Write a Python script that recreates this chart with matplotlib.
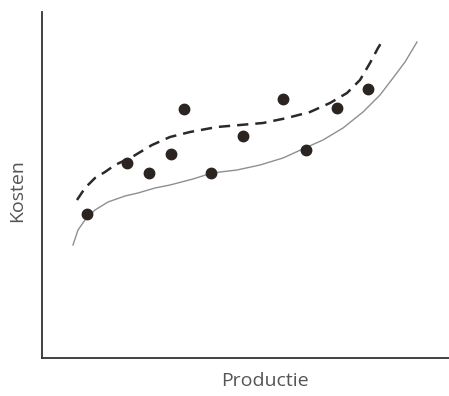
import matplotlib
matplotlib.use("Agg")
import matplotlib.pyplot as plt

obs_x = [45, 85, 107, 129, 142, 169, 201, 241, 264, 295, 326]
obs_y = [144, 195, 185, 204, 249, 185, 222, 259, 208, 250, 269]

# upper (dashed) cost curve
dash_x = [35, 43, 53, 63, 73, 90, 110, 128, 148, 175, 198, 221, 245, 268, 288,
          305, 318, 328, 336, 341]
dash_y = [158, 170, 180, 186, 193, 201, 213, 221, 226, 231, 233, 235, 240, 246, 255,
          265, 278, 295, 310, 318]

# lower (solid) cost curve
sol_x = [31, 36, 43, 53, 66, 83, 96, 113, 128, 151, 170, 195, 218, 241, 263,
         281, 301, 321, 338, 351, 363, 375]
sol_y = [113, 128, 138, 148, 156, 162, 165, 170, 173, 179, 185, 188, 193, 200, 210,
         218, 230, 246, 263, 280, 296, 316]

fig = plt.figure(figsize=(4.49, 3.96), dpi=100)
ax = fig.add_axes([42 / 449, 38 / 396, 407 / 449, 346 / 396])

ax.plot(sol_x, sol_y, '-', color='#8f8f8f', linewidth=1.0)
ax.plot(dash_x, dash_y, color='#2a2a2a', linewidth=1.8, dashes=(4.5, 2.8))
ax.plot(obs_x, obs_y, 'o', color='#2b2420', markersize=7.5, linestyle='none')

ax.set_xlim(0, 407)
ax.set_ylim(0, 346)
ax.set_xticks([])
ax.set_yticks([])
for s in ['top', 'right']:
    ax.spines[s].set_visible(False)
for s in ['left', 'bottom']:
    ax.spines[s].set_color('#333333')
    ax.spines[s].set_linewidth(1.3)

fig.text(265 / 449, 1 - 381 / 396, 'Productie', ha='center', va='center',
         fontsize=14, color='#555555', family='Open Sans')
fig.text(17 / 449, 1 - 191 / 396, 'Kosten', ha='center', va='center',
         rotation=90, fontsize=14, color='#555555', family='Open Sans')

fig.savefig('out.png', dpi=100)
